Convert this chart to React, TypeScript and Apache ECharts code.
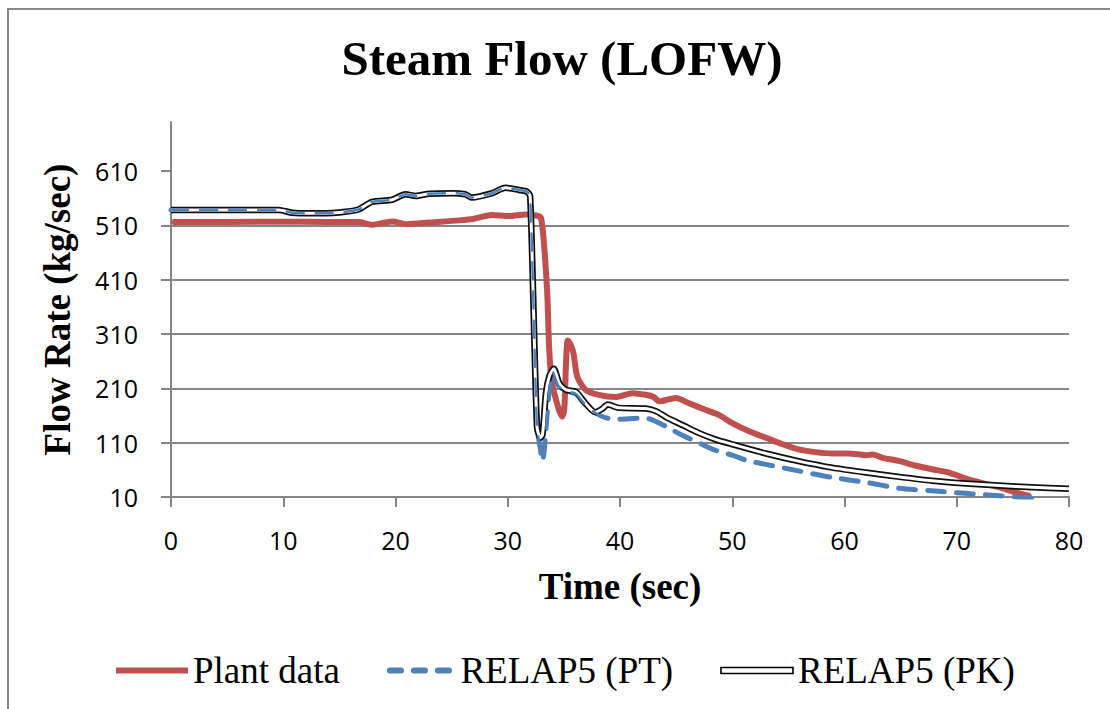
import React, { useEffect, useRef } from "react";
import * as echarts from "echarts";

// Time axis ticks (sec) and flow-rate ticks (kg/sec)
const timeTicks = [0, 10, 20, 30, 40, 50, 60, 70, 80];
const flowTicks = [10, 110, 210, 310, 410, 510, 610];

// [time (sec), steam flow (kg/sec)]
const plantData: [number, number][] = [
  [0.3, 516], [5, 516], [10, 516.5], [14, 516], [16.7, 516], [17.9, 511], [19.7, 517],
  [21, 512], [23, 515], [25.7, 519], [27, 522], [28.6, 529], [30.1, 527], [31.6, 530],
  [32.5, 528], [32.95, 524], [33.23, 475], [33.52, 384], [33.67, 293], [33.83, 238],
  [34.0, 213], [34.3, 189], [34.6, 168], [34.86, 158], [35.05, 176], [35.2, 262],
  [35.35, 298], [35.6, 290], [35.85, 275], [36.2, 231], [36.95, 207], [38.1, 198],
  [39.6, 194], [41.1, 201], [42.3, 198], [43.0, 194], [43.5, 186], [44.4, 190],
  [45.0, 192], [46.1, 183], [47.6, 170.5], [48.8, 161], [50, 146], [51.5, 131],
  [53, 119], [54.5, 107], [55.9, 97.5], [57.4, 92.6], [58.9, 90], [60.4, 90],
  [61.9, 87], [62.5, 88], [63.4, 82], [64.9, 76], [66.3, 68], [67.8, 61], [69.3, 55],
  [70.8, 44], [72.3, 35.5], [73.8, 27.7], [75.2, 18.6], [76.4, 12.4],
];

const relapPT: [number, number][] = [
  [0, 538], [5, 538], [9.6, 538], [10.8, 533], [12.5, 532], [13.8, 532], [15.2, 534],
  [16.7, 539], [17.9, 553], [19.7, 557], [20.9, 567], [21.8, 564], [23, 568],
  [25.1, 569], [26.2, 567], [26.8, 561], [28.6, 569], [29.8, 579], [31.0, 575],
  [31.7, 572], [32.0, 563], [32.6, 140], [32.9, 100], [33.05, 76], [33.2, 86],
  [33.35, 120], [33.6, 185], [34.0, 240], [34.5, 215], [35.2, 204], [36.05, 200],
  [36.9, 180], [37.8, 165], [38.7, 156], [39.9, 153], [41.7, 155], [42.6, 154],
  [43.2, 149], [44.1, 140], [45.6, 123], [47.0, 110], [48.5, 96], [50, 87], [51.5, 76],
  [53, 70], [55.9, 58], [58.9, 46], [61.9, 37], [64.9, 26], [67.8, 21.5], [70.8, 16.7],
  [73.8, 12.4], [75.5, 9.5], [77, 8],
];

const relapPK: [number, number][] = [
  [0, 538], [5, 538], [9.6, 538], [10.8, 533], [12.5, 532], [13.8, 532], [15.2, 534],
  [16.7, 539], [17.9, 553], [19.7, 557], [20.9, 567], [21.8, 564], [23, 568],
  [25.1, 569], [26.2, 567], [26.8, 561], [28.6, 569], [29.8, 579], [31.0, 575],
  [31.7, 572], [32.0, 563], [32.6, 140], [32.9, 119], [33.1, 125], [33.4, 201],
  [33.7, 232], [34.1, 246], [34.6, 219], [35.2, 207], [36.05, 204], [36.9, 183],
  [37.8, 166], [38.4, 172], [38.9, 180], [39.9, 174], [42.3, 173], [43.2, 168],
  [44.1, 157], [45.6, 142], [47.0, 128], [48.5, 116], [50, 107], [53, 90], [55.9, 76],
  [58.9, 64], [61.9, 55], [64.9, 47], [67.8, 40], [70.8, 35], [73.8, 31], [76.7, 28],
  [80, 25],
];

const RED = "#C0504D";
const BLUE = "#4F81BD";
const GRID_GRAY = "#868686";
const SERIF = '"Liberation Serif", "Times New Roman", serif';
const SANS = '"Open Sans", "Liberation Sans", sans-serif';
const DASH = [17, 12];

export default function App() {
  const ref = useRef<HTMLDivElement>(null);

  useEffect(() => {
    if (!ref.current) return;
    const chart = echarts.init(ref.current, undefined, { renderer: "svg" });

    const line = {
      type: "line" as const,
      symbol: "none",
      smooth: 0.25,
      clip: true,
      silent: true,
    };

    chart.setOption({
      animation: false,
      backgroundColor: "#ffffff",
      graphic: [
        {
          type: "rect",
          shape: { x: 8, y: 9, width: 1300, height: 900 },
          style: { fill: "none", stroke: "#878787", lineWidth: 2 },
          silent: true,
        },
        {
          type: "text",
          x: 562,
          y: 58,
          style: {
            text: "Steam Flow (LOFW)",
            font: `bold 49px ${SERIF}`,
            fill: "#000",
            textAlign: "center",
            textVerticalAlign: "middle",
          },
        },
      ],
      grid: { left: 171, right: 41, top: 122, bottom: 212, containLabel: false },
      legend: {
        left: 111,
        top: 647,
        itemWidth: 72,
        itemHeight: 6,
        itemGap: 47,
        selectedMode: false,
        textStyle: { fontFamily: SERIF, fontSize: 37, color: "#000" },
        data: [
          {
            name: "Plant data",
            icon: "rect",
            itemStyle: { color: RED, borderWidth: 0 },
          },
          {
            name: "RELAP5 (PT)",
            icon:
              "path://M3,0H14A3,3 0 0 1 14,6H3A3,3 0 0 1 3,0Z M27,0H38A3,3 0 0 1 38,6H27A3,3 0 0 1 27,0Z M51,0H62A3,3 0 0 1 62,6H51A3,3 0 0 1 51,0Z",
            itemStyle: { color: BLUE, borderWidth: 0 },
          },
          {
            name: "RELAP5 (PK)",
            icon: "rect",
            itemStyle: { color: "#ffffff", borderColor: "#000000", borderWidth: 1.6 },
          },
        ],
      },
      xAxis: {
        type: "value",
        min: timeTicks[0],
        max: timeTicks[timeTicks.length - 1],
        interval: 10,
        name: "Time (sec)",
        nameLocation: "middle",
        nameGap: 71,
        nameTextStyle: { fontFamily: SERIF, fontWeight: "bold", fontSize: 37, color: "#000" },
        axisLine: { show: true, lineStyle: { color: GRID_GRAY, width: 2 } },
        axisTick: { show: true, length: 10, lineStyle: { color: GRID_GRAY, width: 2 } },
        axisLabel: { fontFamily: SANS, fontSize: 25, color: "#000", margin: 30 },
        splitLine: { show: false },
      },
      yAxis: {
        type: "value",
        min: 10,
        max: 700,
        interval: 100,
        name: "Flow Rate (kg/sec)",
        nameLocation: "middle",
        nameGap: 95,
        nameRotate: 90,
        nameTextStyle: { fontFamily: SERIF, fontWeight: "bold", fontSize: 37, color: "#000" },
        axisLine: { show: true, lineStyle: { color: GRID_GRAY, width: 2 } },
        axisTick: {
          show: true,
          length: 10,
          customValues: flowTicks,
          lineStyle: { color: GRID_GRAY, width: 2 },
        },
        axisLabel: {
          fontFamily: SANS,
          fontSize: 25,
          color: "#000",
          margin: 33,
          customValues: flowTicks,
        },
        splitLine: {
          show: true,
          showMaxLine: false,
          lineStyle: { color: GRID_GRAY, width: 2 },
        },
      },
      series: [
        {
          ...line,
          name: "Plant data",
          data: plantData,
          lineStyle: { color: RED, width: 6, cap: "round", join: "round" },
          itemStyle: { color: RED },
        },
        {
          ...line,
          name: "RELAP5 (PT)",
          data: relapPT,
          lineStyle: { color: BLUE, width: 5, type: DASH, cap: "round", join: "round" },
          itemStyle: { color: BLUE },
        },
        {
          ...line,
          name: "RELAP5 (PK)",
          data: relapPK,
          lineStyle: { color: "#111111", width: 6.5, join: "round" },
          itemStyle: { color: "#111111" },
        },
        {
          ...line,
          name: "RELAP5 (PK) gap",
          data: relapPK,
          lineStyle: { color: "#ffffff", width: 3, join: "round" },
        },
        {
          ...line,
          name: "RELAP5 (PT) core",
          data: relapPT,
          lineStyle: { color: BLUE, width: 2.5, type: DASH, cap: "round", join: "round" },
        },
      ],
    });

    return () => chart.dispose();
  }, []);

  return (
    <div
      ref={ref}
      style={{ position: "absolute", left: 0, top: 0, width: 1110, height: 709, background: "#fff" }}
    />
  );
}
